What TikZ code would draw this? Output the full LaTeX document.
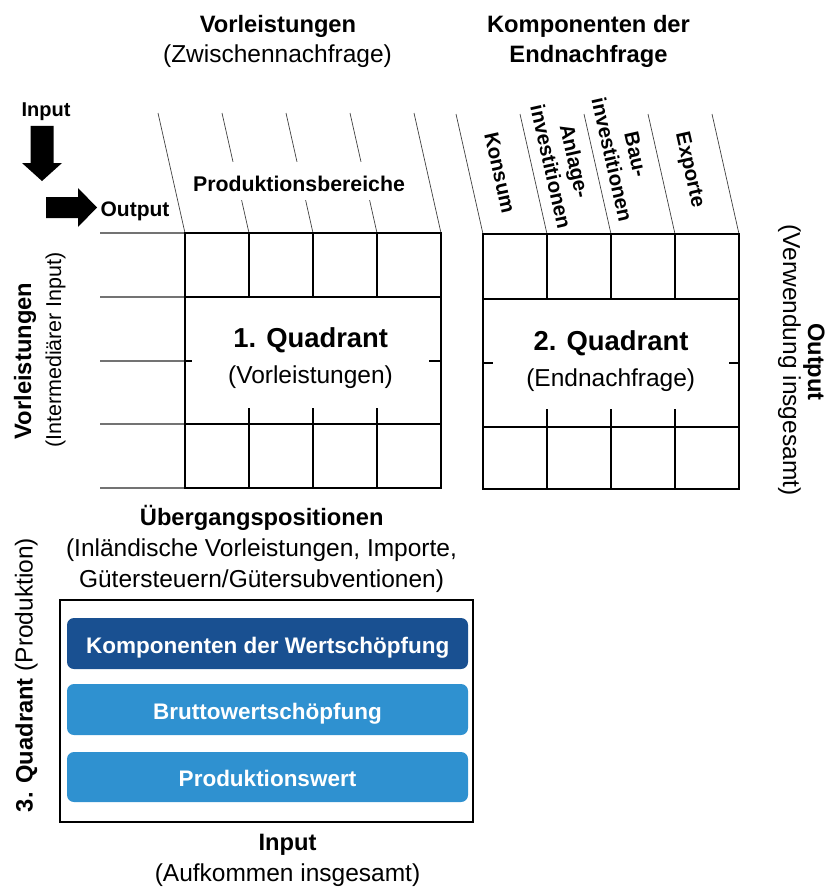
\documentclass[tikz,border=0pt]{standalone}
\usepackage{fontspec}
\setmainfont{Liberation Sans}
\definecolor{darkbar}{RGB}{25,80,145}
\definecolor{lightbar}{RGB}{47,145,208}
\begin{document}
\begin{tikzpicture}[x=1pt,y=-1pt,
  gl/.style={line width=1.4pt, black},
  sl/.style={line width=0.7pt, black!75},
  ll/.style={line width=1.1pt, black!55},
  hb/.style={font=\fontsize{23.7}{28}\selectfont\bfseries, inner sep=0pt, anchor=base},
  rg/.style={font=\fontsize{24.5}{29}\selectfont, inner sep=0pt, anchor=base},
  cl/.style={font=\fontsize{20.5}{24.5}\selectfont\bfseries, rotate=-77.3, align=center, inner sep=0pt},
  qt/.style={font=\fontsize{27.4}{32}\selectfont\bfseries, inner sep=0pt, anchor=base},
  bt/.style={font=\fontsize{22.5}{27}\selectfont\bfseries, text=white, inner sep=0pt, anchor=base},
  barbox/.style={rounded corners=7pt, fill=#1},
]
\useasboundingbox (0,0) rectangle (833,888);

% top headings
\node[hb] (h1) at (278,33) {Vorleistungen};
\node[rg] (h1s) at (277.5,63) {(Zwischennachfrage)};
\node[hb] (h2) at (588.5,33) {Komponenten der};
\node[hb] (h2s) at (588.5,62.5) {Endnachfrage};

% input / output arrows
\node[font=\fontsize{20}{24}\selectfont\bfseries, inner sep=0pt, anchor=base] (inp) at (46,117) {Input};
\fill (30.5,126) -- (53.5,126) -- (53.5,163) -- (62,163) -- (42,181) -- (22,163) -- (30.5,163) -- cycle;
\fill (46,197) -- (78,197) -- (78,188) -- (97,207.5) -- (78,227) -- (78,218) -- (46,218) -- cycle;
\node[font=\fontsize{21}{25}\selectfont\bfseries, inner sep=0pt, anchor=base] (outp) at (135,216) {Output};

% slanted header lines
\foreach \x in {185,249,313,377,441} \draw[sl] (\x-27,113) -- (\x,233);
\foreach \x in {483,547,611,675,739} \draw[sl] (\x-27,114) -- (\x,234);

% Produktionsbereiche label
\fill[white] (182,162) rectangle (418,200);
\node[font=\fontsize{21.3}{25}\selectfont\bfseries, inner sep=0pt, anchor=base] (pb) at (299,191.7) {Produktionsbereiche};

% column labels of final demand
\node[cl] (k1) at (500,172.5) {Konsum};
\node[cl] (k2) at (563,164) {Anlage-\\investitionen};
\node[cl] (k3) at (624,157) {Bau-\\investitionen};
\node[cl] (k4) at (689,170) {Exporte};

% left row lines
\foreach \y in {233,297,361,424,488} \draw[ll] (100,\y) -- (185,\y);

% grid 1
\draw[gl] (185,233) rectangle (441,488);
\draw[gl] (185,297) -- (441,297) (185,424) -- (441,424);
\foreach \x in {249,313,377} \draw[gl] (\x,233) -- (\x,297) (\x,408) -- (\x,488);
\draw[gl] (185,361) -- (192,361) (429,361) -- (441,361);
\node[qt] (q1) at (310.7,347.7) {1. Quadrant};
\node[rg] (q1s) at (310.5,383) {(Vorleistungen)};

% grid 2
\draw[gl] (483,234) rectangle (739,489);
\draw[gl] (483,299) -- (739,299) (483,427) -- (739,427);
\foreach \x in {547,611,675} \draw[gl] (\x,234) -- (\x,299) (\x,409) -- (\x,489);
\draw[gl] (483,363) -- (493,363) (729,363) -- (739,363);
\node[qt] (q2) at (611,350.7) {2. Quadrant};
\node[rg] (q2s) at (610.7,386.7) {(Endnachfrage)};

% left side labels
\node[hb, rotate=90] (lv) at (31,361) {Vorleistungen};
\node[font=\fontsize{21.5}{26}\selectfont, inner sep=0pt, anchor=base, rotate=90] (lvs) at (61,350) {(Intermediärer Input)};

% right side labels
\node[hb, rotate=-90] (ro) at (808,362) {Output};
\node[rg, rotate=-90] (ros) at (783,360) {(Verwendung insgesamt)};

% third quadrant
\node[hb] (ue) at (261.7,525) {Übergangspositionen};
\node[rg] (ue1) at (261.5,556.7) {(Inländische Vorleistungen, Importe,};
\node[rg] (ue2) at (261.5,587.3) {Gütersteuern/Gütersubventionen)};
\draw[line width=1.5pt] (60,600) rectangle (473,822);
\fill[barbox=darkbar] (67,618) rectangle (468,669);
\fill[barbox=lightbar] (67,684) rectangle (468,735);
\fill[barbox=lightbar] (67,752) rectangle (468,802);
\node[bt] (b1) at (267.7,653.3) {Komponenten der Wertschöpfung};
\node[bt] (b2) at (267.5,719.3) {Bruttowertschöpfung};
\node[bt] (b3) at (267.5,786) {Produktionswert};
\node[rotate=90, inner sep=0pt, anchor=base] (q3) at (32.5,675) {\fontsize{23.7}{28}\selectfont\textbf{3. Quadrant}\fontsize{24.5}{29}\selectfont{} (Produktion)};
\node[hb] (bi) at (287.5,850) {Input};
\node[rg] (bis) at (287.5,881.7) {(Aufkommen insgesamt)};
\end{tikzpicture}
\end{document}
